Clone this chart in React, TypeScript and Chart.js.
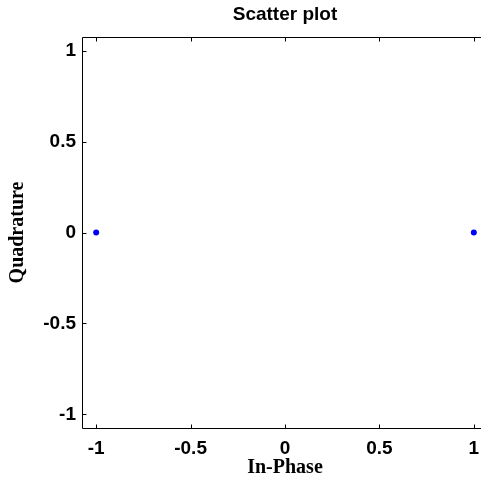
import React, { useEffect, useRef } from "react";
import { Chart, registerables } from "chart.js";

Chart.register(...registerables);

const inPhase = [-1, 1];
const quadrature = [0, 0];
const xTicks = [-1, -0.5, 0, 0.5, 1];
const yTicks = [-1, -0.5, 0, 0.5, 1];
const axisMin = -1.075;
const axisMax = 1.075;
const titleText = "Scatter plot";
const xTitle = "In-Phase";
const yTitle = "Quadrature";

const boxPlugin = {
  id: "matlabBox",
  afterDraw(chart: any) {
    const { ctx, chartArea } = chart;
    const xs = chart.scales.x;
    const ys = chart.scales.y;
    const L = Math.round(chartArea.left) + 0.5;
    const R = Math.round(chartArea.right) + 0.5;
    const T = Math.round(chartArea.top) + 0.5;
    const B = Math.round(chartArea.bottom) + 0.5;
    const tl = 4;
    ctx.save();
    ctx.strokeStyle = "#000";
    ctx.lineWidth = 1;
    ctx.beginPath();
    ctx.moveTo(R, T);
    ctx.lineTo(L, T);
    ctx.lineTo(L, B);
    ctx.lineTo(R, B);
    xTicks.forEach((v) => {
      const px = Math.round(xs.getPixelForValue(v)) + 0.5;
      ctx.moveTo(px, B);
      ctx.lineTo(px, B - tl);
      ctx.moveTo(px, T);
      ctx.lineTo(px, T + tl);
    });
    yTicks.forEach((v) => {
      const py = Math.round(ys.getPixelForValue(v)) + 0.5;
      ctx.moveTo(L, py);
      ctx.lineTo(L + tl, py);
    });
    ctx.stroke();
    ctx.fillStyle = "#000";
    ctx.font = "bold 19px 'Liberation Sans', Arial, sans-serif";
    ctx.textAlign = "center";
    ctx.textBaseline = "middle";
    ctx.fillText(titleText, (chartArea.left + chartArea.right) / 2, 15);
    ctx.restore();
  },
};

export default function App() {
  const ref = useRef<HTMLCanvasElement>(null);
  useEffect(() => {
    if (!ref.current) return;
    const chart = new Chart(ref.current, {
      type: "scatter",
      data: {
        datasets: [
          {
            data: inPhase.map((x, i) => ({ x, y: quadrature[i] })),
            backgroundColor: "#0000ff",
            borderWidth: 0,
            pointRadius: 3,
          },
        ],
      },
      options: {
        responsive: false,
        animation: false,
        layout: { padding: { top: 37, right: 3, bottom: 0, left: 0 } },
        plugins: { legend: { display: false }, tooltip: { enabled: false }, title: { display: false } },
        scales: {
          x: {
            type: "linear",
            min: axisMin,
            max: axisMax,
            afterBuildTicks: (s: any) => {
              s.ticks = xTicks.map((v) => ({ value: v }));
            },
            afterFit: (s: any) => {
              s.height = 54;
              s.paddingLeft = 0;
              s.paddingRight = 0;
            },
            grid: { display: false, drawTicks: false },
            border: { display: false },
            ticks: {
              padding: 9,
              color: "#000",
              maxRotation: 0,
              autoSkip: false,
              font: { family: "'Liberation Sans', Arial, sans-serif", size: 19, weight: "bold" },
              callback: (v: any) => String(v),
            },
            title: {
              display: true,
              text: xTitle,
              color: "#000",
              padding: { top: 0, bottom: 2 },
              font: { family: "'Liberation Serif', 'Times New Roman', serif", size: 20, weight: "bold" },
            },
          },
          y: {
            type: "linear",
            min: axisMin,
            max: axisMax,
            afterBuildTicks: (s: any) => {
              s.ticks = yTicks.map((v) => ({ value: v }));
            },
            afterFit: (s: any) => {
              s.width = 82;
              s.paddingTop = 0;
              s.paddingBottom = 0;
            },
            grid: { display: false, drawTicks: false },
            border: { display: false },
            ticks: {
              padding: 6,
              color: "#000",
              autoSkip: false,
              font: { family: "'Liberation Sans', Arial, sans-serif", size: 19, weight: "bold" },
              callback: (v: any) => String(v),
            },
            title: {
              display: true,
              text: yTitle,
              color: "#000",
              padding: { top: 6, bottom: 0 },
              font: { family: "'Liberation Serif', 'Times New Roman', serif", size: 20, weight: "bold" },
            },
          },
        },
      },
      plugins: [boxPlugin],
    });
    return () => chart.destroy();
  }, []);
  return (
    <div
      style={{
        position: "fixed",
        left: 0,
        top: 0,
        width: 481,
        height: 482,
        overflow: "hidden",
        background: "#fff",
      }}
    >
      <canvas ref={ref} width={492} height={482} style={{ display: "block" }} />
    </div>
  );
}
